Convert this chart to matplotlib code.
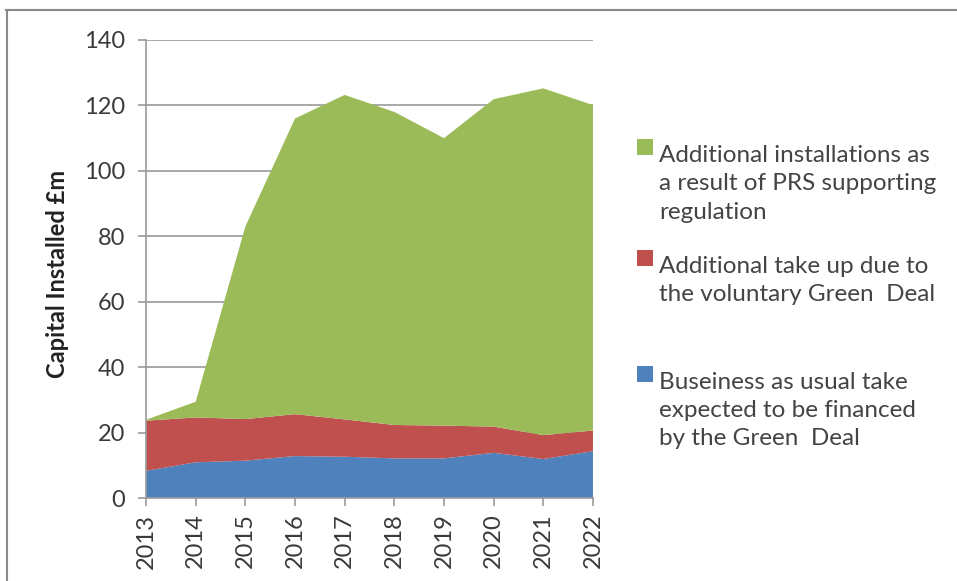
import matplotlib.pyplot as plt
from matplotlib.patches import Rectangle
from matplotlib.lines import Line2D

years = [2013, 2014, 2015, 2016, 2017, 2018, 2019, 2020, 2021, 2022]
business_usual = [8.4, 11.0, 11.5, 12.9, 12.7, 12.2, 12.2, 13.9, 12.0, 14.4]
voluntary_gd = [15.3, 13.7, 12.7, 12.8, 11.4, 10.2, 10.0, 8.0, 7.3, 6.3]
prs_regulation = [0.3, 4.8, 58.8, 90.3, 99.1, 95.6, 87.8, 100.0, 105.9, 99.4]

labels = [
    "Additional installations as\na result of PRS supporting\nregulation",
    "Additional take up due to\nthe voluntary Green  Deal",
    "Buseiness as usual take\nexpected to be financed\nby the Green  Deal",
]
colors = ["#9BBB59", "#C0504D", "#4F81BD"]

plt.rcParams['font.family'] = ['Lato', 'DejaVu Sans']

fig = plt.figure(figsize=(9.57, 5.81), dpi=100)
ax = fig.add_axes([0.1526, 0.1423, 0.467, 0.789])

# stacked areas: blue at bottom, then red, then green
ax.stackplot(years, business_usual, voluntary_gd, prs_regulation,
             colors=[colors[2], colors[1], colors[0]], linewidth=0, zorder=2)

ax.set_xlim(2013, 2022)
ax.set_ylim(0, 140)
ax.set_yticks(range(0, 141, 20))
ax.set_xticks(years)
ax.set_xticklabels([str(y) for y in years], rotation=90)
ax.grid(axis='y', color='#9a9a9a', linewidth=1.2, zorder=1)
ax.set_axisbelow(True)

for side in ['top', 'right']:
    ax.spines[side].set_visible(False)
for side in ['left', 'bottom']:
    ax.spines[side].set_color('#9a9a9a')
    ax.spines[side].set_linewidth(1.2)
ax.tick_params(axis='both', colors='#9a9a9a', length=6, width=1.2,
               labelsize=17, labelcolor='#3a3a3a')
ax.tick_params(axis='y', pad=9)
ax.tick_params(axis='x', pad=5)

ax.set_ylabel("Capital Installed £m", fontsize=17, fontweight='bold',
              color='#222222')
ax.yaxis.set_label_coords(-0.172, 0.49)

# legend drawn by hand to keep the uneven spacing
legend_y = [0.742, 0.551, 0.352]
for lab, col, y in zip(labels, colors, legend_y):
    fig.patches.append(Rectangle((0.6655, y - 0.009), 0.0165, 0.027,
                                 transform=fig.transFigure, facecolor=col,
                                 edgecolor='none'))
    fig.text(0.6885, y + 0.008, lab, fontsize=17.5, color='#444444',
             va='top', ha='left', linespacing=1.42,
             transform=fig.transFigure)

# outer border (top and left edges visible)
fig.lines.append(Line2D([0.006, 1.0], [0.983, 0.983], transform=fig.transFigure,
                        color='#8a8a8a', linewidth=1.5))
fig.lines.append(Line2D([0.007, 0.007], [0.0, 0.983], transform=fig.transFigure,
                        color='#8a8a8a', linewidth=1.5))

fig.savefig("out.png", dpi=100)
